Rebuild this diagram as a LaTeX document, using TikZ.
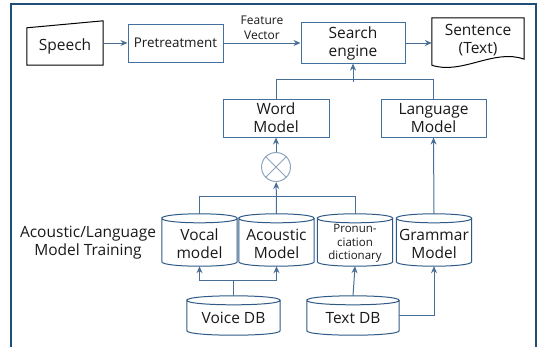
\documentclass[tikz,border=0pt]{standalone}
\usepackage{fontspec}
\setmainfont{Open Sans}
\usetikzlibrary{positioning}
\usetikzlibrary{calc}
\usetikzlibrary{shapes.geometric}
\usetikzlibrary{arrows.meta}
\definecolor{frame colour}{HTML}{1F4E79}
\definecolor{box colour}{HTML}{41719C}
\definecolor{store colour}{HTML}{2F5A85}
\definecolor{line colour}{HTML}{4A6F96}
\definecolor{mult colour}{HTML}{8EA5BE}
\colorlet{text colour}{black!90}
\tikzset{
    % Arrow tips as in the original figure
    >={Stealth[length=7pt, width=6pt]},
%
    % We almost always want centre aligned node text
    every node/.style={align=center, text=text colour},
%
    % Fonts
    big text/.style={font=\fontsize{15.5}{18}\selectfont},
    small text/.style={font=\fontsize{13.4}{16}\selectfont},
    label text/.style={font=\fontsize{12}{15}\selectfont},
    tiny text/.style={font=\fontsize{11.5}{13.5}\selectfont},
%
    % Lines
    frame/.style={draw=frame colour, line width=1.2pt},
    link/.style={draw=line colour, line width=1pt},
    outline/.style={draw=black, line width=1pt},
    drum line/.style={draw=store colour, line width=1pt},
%
    box/.style={
        draw=box colour, line width=1pt, rectangle, big text,
        minimum width=104pt, minimum height=38pt},
    plain/.style={
        rectangle, big text, inner sep=0pt},
    % Database drums: the node is the whole drum, lids included;
    % the text sits a little below the centre, under the lid
    store/.style={
        rectangle, inner sep=0pt,
        minimum width=75pt, minimum height=52pt},
    store label/.style={big text, yshift=-3.5pt},
    mul/.style={
        draw=mult colour, line width=1pt, circle, minimum size=29pt},
}

% Outline of a drum drawn round a store node (lid half height 4.5)
\newcommand\drumoutline[1]{%
    \draw [drum line]
        ($(#1.north west)+(0,4.5)$)
        .. controls ($(#1.north west)+(0,-1.5)$) and ($(#1.north east)+(0,-1.5)$)
        .. ($(#1.north east)+(0,4.5)$)
        .. controls ($(#1.north east)+(0,10.5)$) and ($(#1.north west)+(0,10.5)$)
        .. ($(#1.north west)+(0,4.5)$)
        -- ($(#1.south west)+(0,-4.5)$)
        .. controls ($(#1.south west)+(0,1.5)$) and ($(#1.south east)+(0,1.5)$)
        .. ($(#1.south east)+(0,-4.5)$)
        -- ($(#1.north east)+(0,4.5)$);}

\begin{document}
\begin{tikzpicture}[x=1pt, y=-1pt]
\useasboundingbox (0,0) rectangle (537,346);
\draw [frame] (11,350) |- (536,4) -- (536,350);

\path
    (65,46.5) node [plain, minimum width=76pt, minimum height=37pt] (speech) {Speech}
    (175.5,43) node [box, small text, minimum width=95pt] (pre) {Pretreatment}
    (353,43) node [box] (search) {Search\\engine}
    (478,40) node [plain, minimum width=92pt, minimum height=44pt] (sentence) {Sentence\\(Text)}
    (276,118) node [box, minimum width=106pt] (word) {Word\\Model}
    (433.5,118) node [box, minimum width=105pt] (lang) {Language\\Model}
    (276,167) node [mul] (mult) {}
    (88,243) node [big text] (training) {Acoustic/Language\\Model Training};

\path
    (199.5,240) node [store, label={[store label]center:Vocal\\model}] (vocal) {}
    (276.5,240) node [store, label={[store label]center:Acoustic\\Model}] (acoustic) {}
    (355,240) node [store, label={[store label, tiny text]center:Pronun-\\ciation\\dictionary}] (pron) {}
    (434,240) node [store, label={[store label]center:Grammar\\Model}] (grammar) {}
    (233.5,315.5) node [store, minimum width=93pt, minimum height=39pt,
        label={[store label, yshift=1pt]center:Voice DB}] (voice) {}
    (353,315.5) node [store, minimum width=92pt, minimum height=39pt,
        label={[store label, yshift=1pt]center:Text DB}] (textdb) {};

% Outlines of the input, document and drum symbols
\draw [outline] (speech.south west) -- (speech.north west)
    -- ($(speech.north east)+(0,-7)$) -- (speech.south east) -- cycle;
\draw [outline] (sentence.north west) -- ($(sentence.south west)+(0,3)$)
    .. controls ($(sentence.south west)+(30,13)$) and ($(sentence.south east)+(-30,-14)$)
    .. ($(sentence.south east)+(0,-3)$) -- (sentence.north east) -- cycle;
\foreach \drum in {vocal, acoustic, pron, grammar, voice, textdb}
    \drumoutline{\drum};
\draw [draw=mult colour, line width=1pt] (mult.north west) -- (mult.south east)
    (mult.north east) -- (mult.south west);

\draw [link, ->] (speech.east |- pre.west) -- (pre.west);
\draw [link, ->] (pre) -- (search) node [midway, above, label text] {Feature\\Vector};
\draw [link, ->] (search.east) -- (search.east -| sentence.west);
\draw [link] (word.north) -- ++(0,-19) -| (lang.north);
\draw [link, ->] ($(search.south)+(0,18)$) -- (search.south);
\draw [link, ->] (mult) -- (word);
\draw [link] (vocal.north) -- ++(0,-17) -| (pron.north);
\draw [link, ->] (acoustic.north) -- (mult);
\draw [link, ->] (voice.north) -- ++(0,-15) -| (vocal.south);
\draw [link, ->] (voice.north) -- ++(0,-15) -| (acoustic.south);
\draw [link, ->] (textdb.north) -- (pron.south);
\draw [link, ->] (textdb.east) -| (grammar.south);
\draw [link, ->] (grammar.north) -- (lang.south);

\end{tikzpicture}
\end{document}
